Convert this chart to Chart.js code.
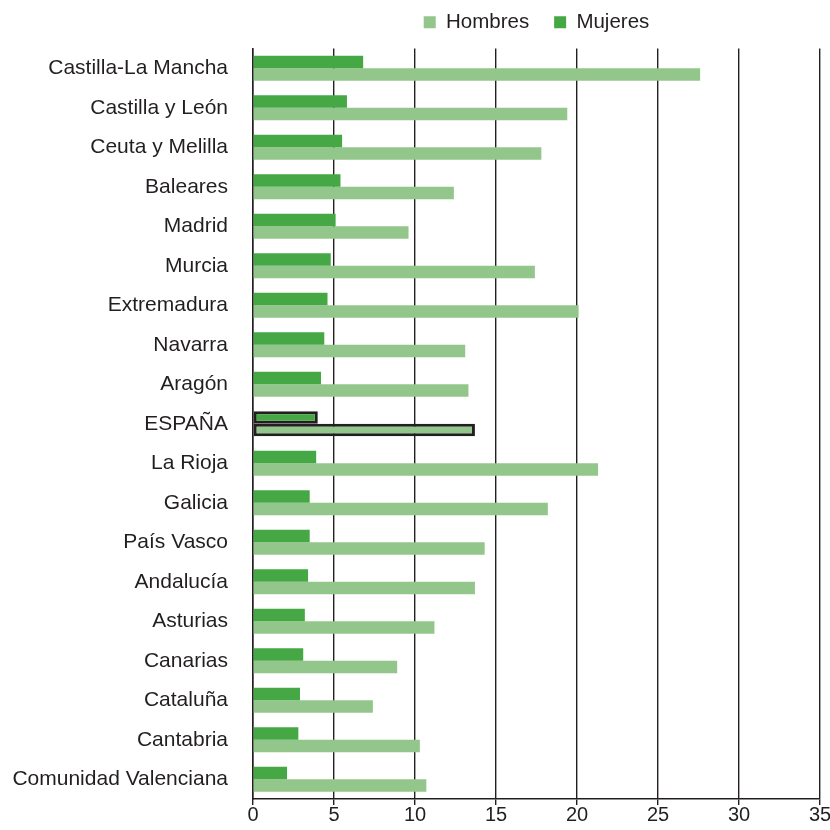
<!DOCTYPE html>
<html>
<head>
<meta charset="utf-8">
<script src="https://cdn.jsdelivr.net/npm/chart.js@4/dist/chart.umd.min.js"></script>
<style>
  html, body { margin: 0; padding: 0; background: #fff; }
  #wrap { width: 830px; height: 830px; position: relative; }
</style>
</head>
<body>
<div id="wrap"><canvas id="chart"></canvas></div>
<script>
const regiones = [
  'Castilla-La Mancha', 'Castilla y León', 'Ceuta y Melilla', 'Baleares', 'Madrid',
  'Murcia', 'Extremadura', 'Navarra', 'Aragón', 'ESPAÑA', 'La Rioja', 'Galicia',
  'País Vasco', 'Andalucía', 'Asturias', 'Canarias', 'Cataluña', 'Cantabria',
  'Comunidad Valenciana'
];
const hombres = [27.6, 19.4, 17.8, 12.4, 9.6, 17.4, 20.1, 13.1, 13.3, 13.7, 21.3, 18.2, 14.3, 13.7, 11.2, 8.9, 7.4, 10.3, 10.7];
const mujeres = [6.8, 5.8, 5.5, 5.4, 5.1, 4.8, 4.6, 4.4, 4.2, 4.0, 3.9, 3.5, 3.5, 3.4, 3.2, 3.1, 2.9, 2.8, 2.1];

const FONT = "'Liberation Sans', Arial, Helvetica, sans-serif";
const INK = '#231f20';
const LIGHT = '#93c68a';
const DARK = '#45a845';

const isSpain = (ctx) => regiones[ctx.dataIndex] === 'ESPAÑA';

Chart.defaults.font.family = FONT;
Chart.defaults.color = INK;

const chart = new Chart(document.getElementById('chart'), {
  type: 'bar',
  data: {
    labels: regiones,
    datasets: [
      {
        label: 'Mujeres',
        data: mujeres,
        backgroundColor: DARK,
        borderColor: ctx => isSpain(ctx) ? INK : DARK,
        borderWidth: ctx => isSpain(ctx) ? 3 : 0,
        borderSkipped: false
      },
      {
        label: 'Hombres',
        data: hombres,
        backgroundColor: LIGHT,
        borderColor: ctx => isSpain(ctx) ? INK : LIGHT,
        borderWidth: ctx => isSpain(ctx) ? 3 : 0,
        borderSkipped: false
      }
    ]
  },
  options: {
    indexAxis: 'y',
    responsive: true,
    maintainAspectRatio: false,
    animation: false,
    datasets: {
      bar: { categoryPercentage: 0.63, barPercentage: 1 }
    },
    layout: { padding: { left: 0, right: 10, top: -13, bottom: 5 } },
    plugins: {
      tooltip: { enabled: false },
      // empty title used only as a spacer below the legend
      title: {
        display: true,
        text: '',
        weight: 500,
        font: { size: 5, lineHeight: 1.2 },
        padding: 0
      },
      legend: {
        position: 'top',
        fullSize: false,
        reverse: true,
        weight: 3000,
        labels: {
          font: { size: 20.5, family: FONT },
          color: INK,
          boxWidth: 12,
          boxHeight: 12,
          padding: 25
        }
      }
    },
    scales: {
      x: {
        min: 0,
        max: 35,
        ticks: { stepSize: 5, font: { size: 20 }, color: INK, padding: -2 },
        grid: { color: INK, lineWidth: 1.4, tickLength: 6, drawTicks: true },
        border: { color: INK, width: 1.5 }
      },
      y: {
        afterFit(scale) { scale.width = 253; },
        ticks: { font: { size: 21 }, color: INK, padding: 17, autoSkip: false },
        grid: { display: false },
        border: { display: true, color: INK, width: 1.5 }
      }
    }
  }
});
</script>
</body>
</html>
